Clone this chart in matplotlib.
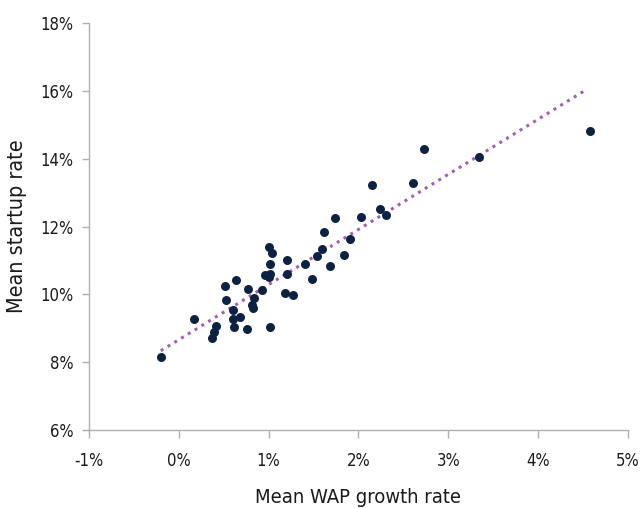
import numpy as np
import matplotlib.pyplot as plt
from matplotlib.ticker import FuncFormatter

# mean WAP growth rate (%) and mean startup rate (%)
wap_growth = [-0.20, 0.17, 0.37, 0.39, 0.42, 0.52, 0.53, 0.60, 0.60, 0.61,
              0.64, 0.68, 0.76, 0.77, 0.81, 0.83, 0.84, 0.93, 0.96, 1.00,
              1.02, 1.02, 1.01, 1.04, 1.02, 1.18, 1.27, 1.20, 1.21, 1.41,
              1.48, 1.54, 1.59, 1.62, 1.68, 1.74, 1.84, 1.91, 2.03, 2.15,
              2.24, 2.31, 2.61, 2.73, 3.34, 4.58]
startup_rate = [8.14, 9.27, 8.71, 8.89, 9.07, 10.24, 9.82, 9.27, 9.54, 9.04,
                10.41, 9.33, 8.98, 10.16, 9.70, 9.61, 9.90, 10.12, 10.57, 10.51,
                10.59, 10.89, 11.40, 11.22, 9.04, 10.03, 9.97, 11.00, 10.59, 10.90,
                10.46, 11.14, 11.33, 11.83, 10.85, 12.24, 11.17, 11.63, 12.28, 13.21,
                12.51, 12.33, 13.28, 14.28, 14.05, 14.82]

x = np.array(wap_growth)
y = np.array(startup_rate)

plt.rcParams['font.family'] = ['DejaVu Sans']
plt.rcParams['font.stretch'] = 'condensed'

fig = plt.figure(figsize=(6.4, 5.08), dpi=100)
ax = fig.add_axes([0.139, 0.1535, 0.842, 0.8012])

ax.scatter(x, y, s=42, color='#0e2143', zorder=3, linewidths=0)

# linear trend line
coef = np.polyfit(x, y, 1)
xs = np.array([x.min(), x.max() - 0.06])
ax.plot(xs, np.polyval(coef, xs), color='#a45fb3', linestyle=(0, (1, 1.6)),
        linewidth=2.2, zorder=2)

ax.set_xlim(-1, 5)
ax.set_ylim(6, 18)
ax.set_xticks(np.arange(-1, 6, 1))
ax.set_yticks(np.arange(6, 19, 2))
ax.xaxis.set_major_formatter(FuncFormatter(lambda v, p: '%d%%' % v))
ax.yaxis.set_major_formatter(FuncFormatter(lambda v, p: '%d%%' % v))

for s in ['top', 'right']:
    ax.spines[s].set_visible(False)
for s in ['left', 'bottom']:
    ax.spines[s].set_color('#b0b0b0')
    ax.spines[s].set_linewidth(1)

ax.tick_params(axis='x', colors='#b0b0b0', length=6, width=1, pad=10,
               labelcolor='#1a1a1a', labelsize=12)
ax.tick_params(axis='y', colors='#b0b0b0', length=5, width=1, pad=6,
               labelcolor='#1a1a1a', labelsize=12)

ax.set_xlabel('Mean WAP growth rate', fontsize=14.5, color='#1a1a1a', labelpad=13)
ax.set_ylabel('Mean startup rate', fontsize=15.5, color='#1a1a1a', labelpad=10)

fig.savefig('out.png', dpi=100)
